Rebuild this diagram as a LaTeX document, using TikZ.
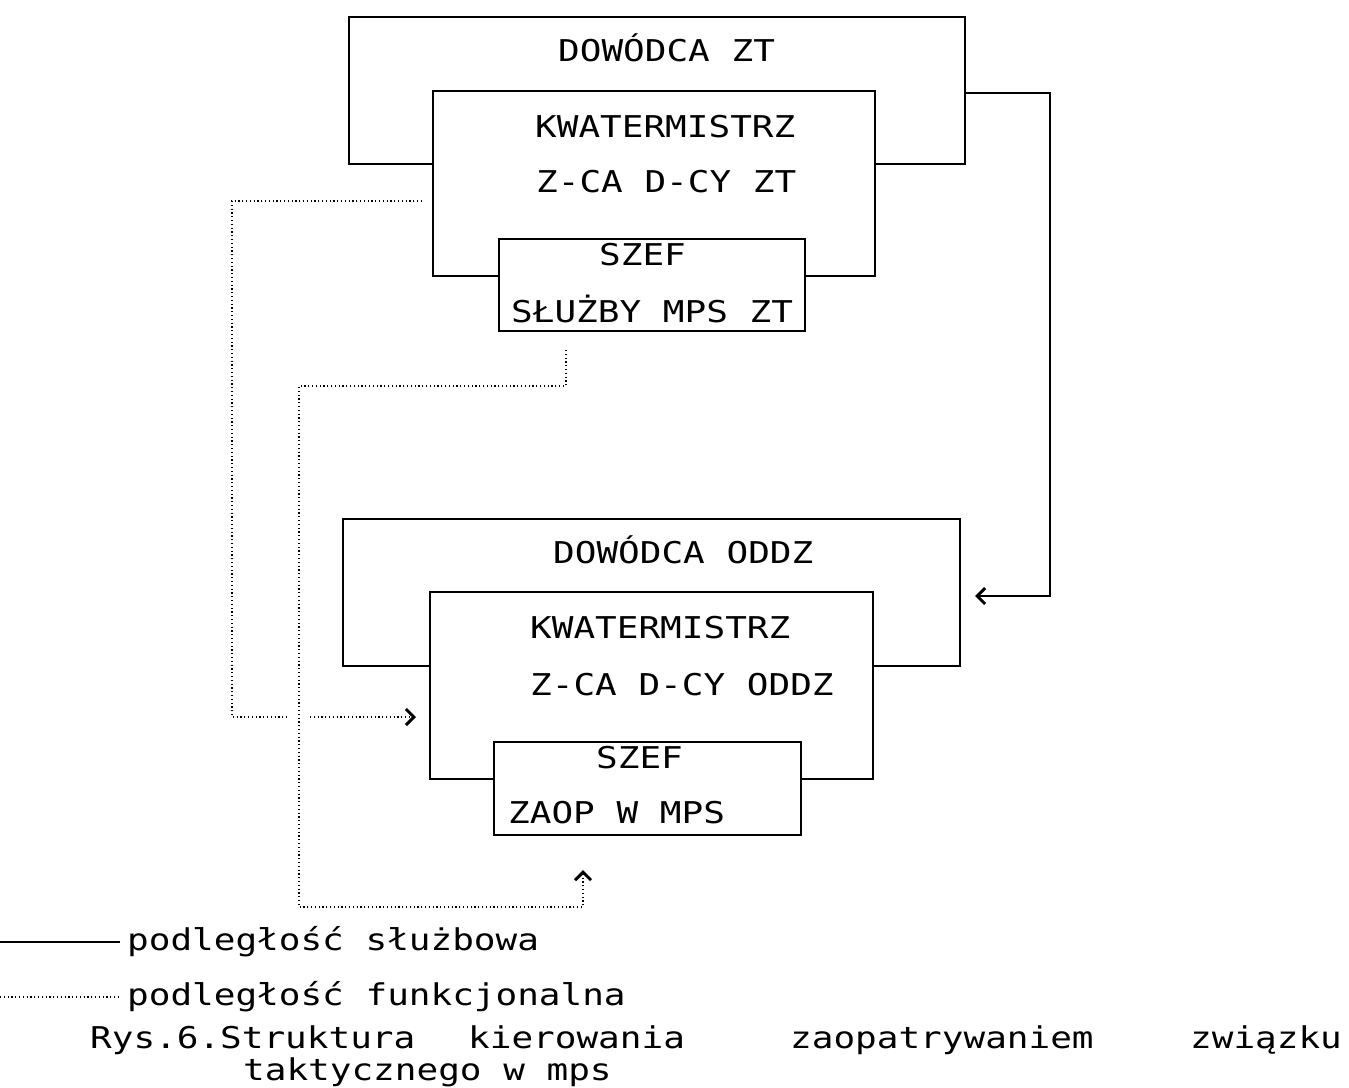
\documentclass[tikz,border=0pt]{standalone}
\usepackage{fontspec}
\usetikzlibrary{arrows.meta,calc}
\newfontfamily\dotm[FakeStretch=1.2]{DejaVu Sans Mono}
\begin{document}
\begin{tikzpicture}[x=1pt,y=-1pt,
  box/.style={draw, fill=white, line width=1.5pt, inner sep=0pt, outer sep=0pt},
  lbl/.style={anchor=base west, inner sep=0pt, font=\dotm\fontsize{30}{36}\selectfont},
  conn/.style={line width=1.5pt},
  fconn/.style={line width=1.4pt, dash pattern=on 1.2pt off 2.6pt},
  >={Straight Barb[length=8pt,width=16pt,line width=3pt]}]
\useasboundingbox[fill=white] (0,0) rectangle (1349,1087);

% top group
\node[box, minimum width=616pt, minimum height=147pt] (dzt) at (657,90.5) {};
\node[box, minimum width=442pt, minimum height=185pt] (kzt) at (654,183.5) {};
\node[box, minimum width=306pt, minimum height=92pt] (szt) at (652,285) {};
\node[lbl] (tdzt) at (558,61) {DOWÓDCA ZT};
\node[lbl] (tkzt) at (535,137) {KWATERMISTRZ};
\node[lbl] (tzzt) at (536,192) {Z-CA D-CY ZT};
\node[lbl] (tszt) at (599,265) {SZEF};
\node[lbl] (tslzt) at (511,322) {SŁUŻBY MPS ZT};

% bottom group
\node[box, minimum width=617pt, minimum height=147pt] (dod) at (651.5,592.5) {};
\node[box, minimum width=443pt, minimum height=187pt] (kod) at (651.5,685.5) {};
\node[box, minimum width=307pt, minimum height=93pt] (sod) at (647.5,788.5) {};
\node[lbl] (tdod) at (553,563) {DOWÓDCA ODDZ};
\node[lbl] (tkod) at (530,638) {KWATERMISTRZ};
\node[lbl] (tzod) at (530,695) {Z-CA D-CY ODDZ};
\node[lbl] (tsod) at (596,768) {SZEF};
\node[lbl] (tzaod) at (508,823) {ZAOP W MPS};

% solid connector
\coordinate (r1) at (1050,93);
\coordinate (ra) at (975,596);
\draw[conn,->] (dzt.east |- r1) -- (r1) -- (r1 |- ra) -- (ra);

% dotted connector 1
\coordinate (f1s) at (422,201);
\coordinate (f1c) at (232,717);
\coordinate (f1g1) at (288,717);
\coordinate (f1g2) at (310,717);
\coordinate (f1a) at (416,717);
\draw[fconn,->] (f1s) -- (f1c |- f1s) -- (f1c) -- (f1g1) (f1g2) -- (f1a);

% dotted connector 2
\coordinate (f2s) at (566,350);
\coordinate (f2m) at (299,386);
\coordinate (f2b) at (583,907);
\coordinate (f2a) at (583,870);
\draw[fconn,->] (f2s) -- (f2s |- f2m) -- (f2m) -- (f2m |- f2b) -- (f2b) -- (f2a);

% legend
\coordinate (l1a) at (0,942);
\coordinate (l1b) at (120,942);
\draw[conn] (l1a) -- (l1b);
\node[lbl] (leg1) at (127,950) {podległość służbowa};
\coordinate (l2a) at (0,997);
\coordinate (l2b) at (120,997);
\draw[fconn] (l2a) -- (l2b);
\node[lbl] (leg2) at (127,1005) {podległość funkcjonalna};

% caption
\node[lbl] (c1) at (90,1048) {Rys.6.Struktura};
\node[lbl] (c2) at (468,1048) {kierowania};
\node[lbl] (c3) at (790,1048) {zaopatrywaniem};
\node[lbl] (c4) at (1190,1048) {związku};
\node[lbl] (c5) at (243,1080) {taktycznego w mps};
\end{tikzpicture}
\end{document}
